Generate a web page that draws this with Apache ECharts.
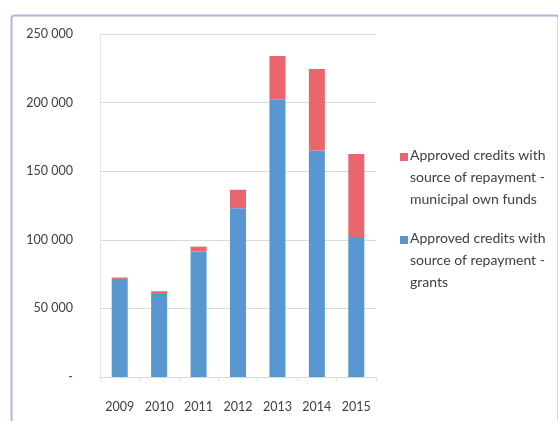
<!DOCTYPE html>
<html>
<head>
<meta charset="utf-8">
<script src="https://cdn.jsdelivr.net/npm/echarts@6/dist/echarts.min.js"></script>
<style>
html,body{margin:0;padding:0;background:#fff;}
#chart{width:558px;height:421px;}
</style>
</head>
<body>
<div id="chart"></div>
<script>
const years = ['2009','2010','2011','2012','2013','2014','2015'];
const grants = [71500, 60500, 91500, 123000, 202500, 165000, 102000];
const ownFunds = [1000, 2000, 3500, 13500, 31500, 59500, 60500];
const seriesNames = ['Approved credits with source of repayment - grants',
                     'Approved credits with source of repayment - municipal own funds'];
const legendLinesOwn = ['Approved credits with', 'source of repayment -', 'municipal own funds'];
const legendLinesGrants = ['Approved credits with', 'source of repayment -', 'grants'];
const yTicks = [0, 50000, 100000, 150000, 200000, 250000];

const BLUE = '#5897d0';
const RED = '#e8666c';
const FONT = 'Lato, "Open Sans", sans-serif';
const TXT = '#404040';

function fmt(v){
  if (v === 0) return '-';
  return String(v).replace(/\B(?=(\d{3})+(?!\d))/g, ' ');
}

const chart = echarts.init(document.getElementById('chart'), null, {renderer:'canvas'});

function legendItem(color, lines, top){
  const els = [{
    type:'rect', left:400, top:top-4, shape:{width:8,height:8}, style:{fill:color}
  }];
  lines.forEach((l,i)=>{
    els.push({type:'text', left:410, top:top - 9 + i*22,
      style:{text:l, fill:TXT, font:'14px ' + FONT}});
  });
  return els;
}

chart.setOption({
  animation:false,
  grid:{left:100, right:182, top:34, bottom:44},
  xAxis:{
    type:'category', data:years, boundaryGap:true,
    axisLine:{show:true, lineStyle:{color:'#d9d9d9'}},
    axisTick:{show:true, length:4, lineStyle:{color:'#e0e0e0'}},
    axisLabel:{color:TXT, fontSize:12.5, fontFamily:FONT, margin:23}
  },
  yAxis:{
    type:'value', min:0, max:250000, interval:50000,
    axisLine:{show:true, lineStyle:{color:'#e3e3e3'}},
    axisTick:{show:false},
    splitLine:{lineStyle:{color:'#dcdcdc'}},
    axisLabel:{color:TXT, fontSize:12.5, fontFamily:FONT, margin:27, formatter:fmt}
  },
  series:[
    {name:seriesNames[0], type:'bar', stack:'a', data:grants, barWidth:16, itemStyle:{color:BLUE}},
    {name:seriesNames[1], type:'bar', stack:'a', data:ownFunds, barWidth:16, itemStyle:{color:RED}}
  ],
  graphic:[
    {type:'rect', left:9, top:13, shape:{x:0,y:0,width:547,height:408, r:3},
     style:{fill:'none', stroke:'#b4b4dc', lineWidth:2}, silent:true},
    ...legendItem(RED, legendLinesOwn, 157),
    ...legendItem(BLUE, legendLinesGrants, 240)
  ]
});
</script>
</body>
</html>
